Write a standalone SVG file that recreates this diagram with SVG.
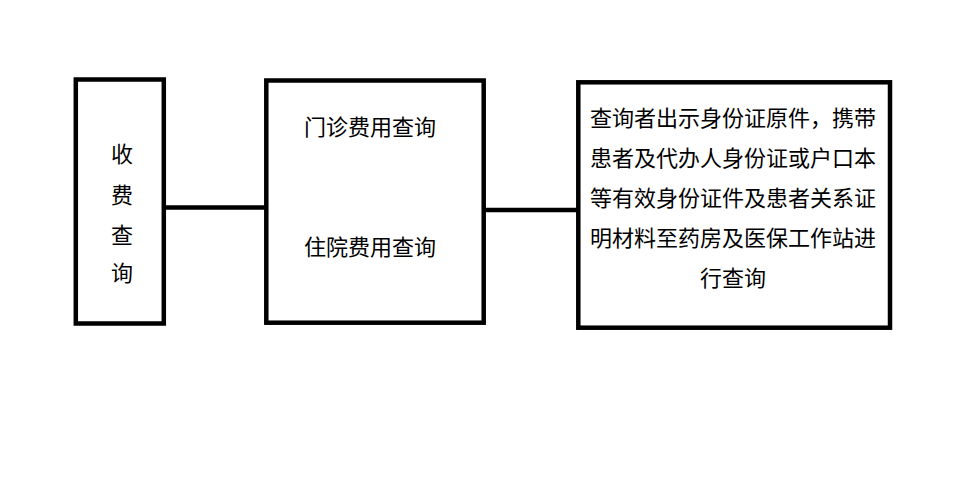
<svg xmlns="http://www.w3.org/2000/svg" width="972" height="496" viewBox="0 0 972 496">
<style>
.box{fill:#fff;stroke:#000;stroke-width:4.5}
.t{font-family:"Noto Sans CJK SC","Noto Sans",sans-serif;font-size:22px;fill:#000;text-anchor:middle}
.c{stroke:#000;stroke-width:4.5;fill:none}
</style>
<rect width="972" height="496" fill="#fff"/>
<g id="connectors">
<line class="c" x1="164" y1="207.5" x2="266" y2="207.5"/>
<line class="c" x1="484" y1="210" x2="578" y2="210"/>
</g>
<g id="node-shoufei">
<rect class="box" x="75.8" y="79.5" width="88" height="244"/>
<text class="t" x="122" y="162">收</text>
<text class="t" x="122" y="203">费</text>
<text class="t" x="122" y="243">查</text>
<text class="t" x="122" y="281">询</text>
</g>
<g id="node-feiyong">
<rect class="box" x="266.3" y="80.5" width="217.4" height="242.2"/>
<text class="t" x="370" y="134.5">门诊费用查询</text>
<text class="t" x="370" y="254.5">住院费用查询</text>
</g>
<g id="node-shuoming">
<rect class="box" x="578.3" y="82.3" width="311.7" height="245.4"/>
<text class="t" x="733" y="126.3">查询者出示身份证原件，携带</text>
<text class="t" x="733" y="166.3">患者及代办人身份证或户口本</text>
<text class="t" x="733" y="206.3">等有效身份证件及患者关系证</text>
<text class="t" x="733" y="246.3">明材料至药房及医保工作站进</text>
<text class="t" x="733" y="286.3">行查询</text>
</g>
</svg>
